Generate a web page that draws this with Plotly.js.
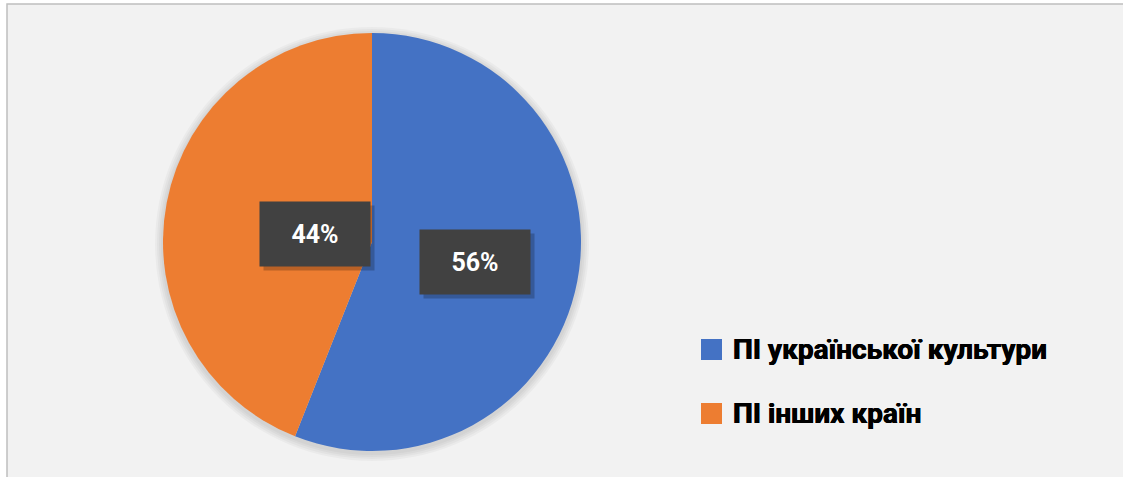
<!DOCTYPE html>
<html>
<head>
<meta charset="utf-8">
<script src="https://cdn.plot.ly/plotly-3.0.1.min.js"></script>
<style>html,body{margin:0;padding:0;background:#ffffff;}#chart{width:1123px;height:477px;}</style>
</head>
<body>
<div id="chart"></div>
<script>
// Data
var categories = ["ПІ української культури", "ПІ інших країн"];
var shares = [56, 44];
var shareLabels = ["56%", "44%"];
var colors = ["#4472c4", "#ed7d31"];

// Layout geometry (pixels)
var W = 1123, H = 477;
var cx = 372, cy = 242, R = 209;
var labelRadial = [0.5, 0.28];

function px2x(p) { return p / W; }
function py2y(p) { return 1 - p / H; }

var total = shares.reduce(function (a, b) { return a + b; }, 0);

var annotations = [];
var shapes = [];

// Chart area background with border
shapes.push({
  type: "rect", xref: "paper", yref: "paper", layer: "below",
  x0: px2x(7), x1: px2x(1140), y0: py2y(4), y1: py2y(500),
  fillcolor: "#f2f2f2", line: { color: "#bfbfbf", width: 1.5 }
});

// Soft pie shadow
[8, 6, 4, 2].forEach(function (d) {
  shapes.push({
    type: "circle", xref: "paper", yref: "paper", layer: "below",
    x0: px2x(cx - R - d), x1: px2x(cx + R + d),
    y0: py2y(cy + 2 + R + d), y1: py2y(cy + 2 - R - d),
    fillcolor: "rgba(0,0,0,0.03)", line: { width: 0 }
  });
});

// Data labels placed from slice angles
var cum = 0;
shares.forEach(function (v, i) {
  var mid = (cum + v / 2) / total * 2 * Math.PI;
  cum += v;
  var lx = cx + labelRadial[i] * R * Math.sin(mid);
  var ly = cy - labelRadial[i] * R * Math.cos(mid) + (i === 1 ? 3 : 0);
  annotations.push({
    xref: "paper", yref: "paper", x: px2x(lx), y: py2y(ly),
    xanchor: "center", yanchor: "middle",
    xshift: 4, yshift: -4,
    text: "", showarrow: false, width: 110, height: 64,
    bgcolor: "rgba(0,0,0,0.22)", borderpad: 0
  });
  annotations.push({
    xref: "paper", yref: "paper", x: px2x(lx), y: py2y(ly),
    xanchor: "center", yanchor: "middle",
    text: shareLabels[i], showarrow: false, width: 110, height: 64,
    bgcolor: "#414141", borderpad: 0,
    font: { family: "Roboto, 'Open Sans', sans-serif", size: 25, color: "#ffffff", weight: "bold" }
  });
});

// Legend (keys + labels) built from categories and colours
var legX = 701, legY = [349.5, 413.5], keySize = 21;
categories.forEach(function (c, i) {
  shapes.push({
    type: "rect", xref: "paper", yref: "paper",
    x0: px2x(legX), x1: px2x(legX + keySize),
    y0: py2y(legY[i] + keySize / 2), y1: py2y(legY[i] - keySize / 2),
    fillcolor: colors[i], line: { width: 0 }
  });
  annotations.push({
    xref: "paper", yref: "paper", x: px2x(legX + keySize + 9), y: py2y(legY[i]),
    xanchor: "left", yanchor: "middle", showarrow: false, text: c,
    font: { family: "Roboto, 'Open Sans', sans-serif", size: 28, color: "#000000", weight: "bold",
            shadow: "0.4px 0 0 #000, -0.4px 0 0 #000" }
  });
});

var trace = {
  type: "pie",
  labels: categories,
  values: shares,
  sort: false,
  direction: "clockwise",
  rotation: 0,
  marker: { colors: colors, line: { width: 0 } },
  textinfo: "none",
  hoverinfo: "label+percent",
  showlegend: false,
  domain: { x: [px2x(cx - R), px2x(cx + R)], y: [py2y(cy + R), py2y(cy - R)] }
};

var layout = {
  width: W, height: H,
  margin: { l: 0, r: 0, t: 0, b: 0 },
  paper_bgcolor: "#ffffff",
  showlegend: false,
  shapes: shapes,
  annotations: annotations
};

Plotly.newPlot("chart", [trace], layout, { displayModeBar: false, staticPlot: true });
</script>
</body>
</html>
